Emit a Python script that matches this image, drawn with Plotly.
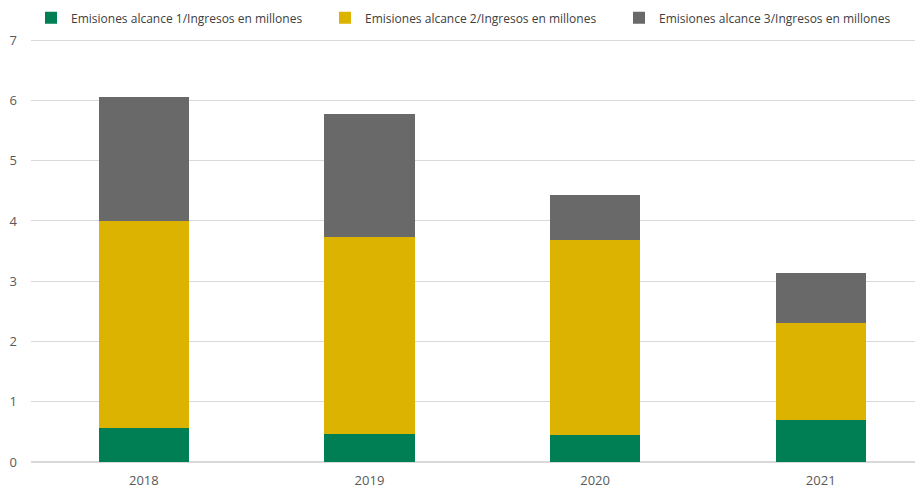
import plotly.graph_objects as go

# Data
years = ["2018", "2019", "2020", "2021"]
alcance1 = [0.56, 0.46, 0.44, 0.69]
alcance2 = [3.44, 3.27, 3.24, 1.61]
alcance3 = [2.06, 2.05, 0.75, 0.84]

names = [
    "Emisiones alcance 1/Ingresos en millones",
    "Emisiones alcance 2/Ingresos en millones",
    "Emisiones alcance 3/Ingresos en millones",
]
colors = ["#007f54", "#dcb300", "#696969"]

fig = go.Figure()
for name, vals, col in zip(names, [alcance1, alcance2, alcance3], colors):
    fig.add_trace(go.Bar(x=years, y=vals, name=name, marker_color=col,
                         marker_line_width=0, width=0.4))

# page has an 8px body margin, so margins are shifted by that
fig.update_layout(
    barmode="stack",
    width=923, height=488,
    margin=dict(l=23, r=11, t=31, b=34, autoexpand=False),
    plot_bgcolor="white", paper_bgcolor="white",
    font=dict(family="Open Sans", color="#595959", size=13),
    legend=dict(orientation="h", x=0.0, xanchor="left", y=1.05, yanchor="middle",
                font=dict(size=12, color="#404040"),
                itemwidth=30, entrywidth=249, traceorder="normal"),
)
fig.update_xaxes(range=[-0.5, 3.44], showgrid=False, showline=False, ticks="",
                 automargin=False, ticklabelstandoff=9,
                 tickfont=dict(size=13, color="#595959"))
fig.update_yaxes(range=[0, 7.02], tickvals=[0, 1, 2, 3, 4, 5, 6, 7],
                 showgrid=True, gridcolor="#d9d9d9",
                 zeroline=True, zerolinecolor="#d9d9d9", showline=False, ticks="",
                 automargin=False, ticklabelstandoff=13,
                 tickfont=dict(size=13, color="#595959"))

fig.write_html("out.html")
